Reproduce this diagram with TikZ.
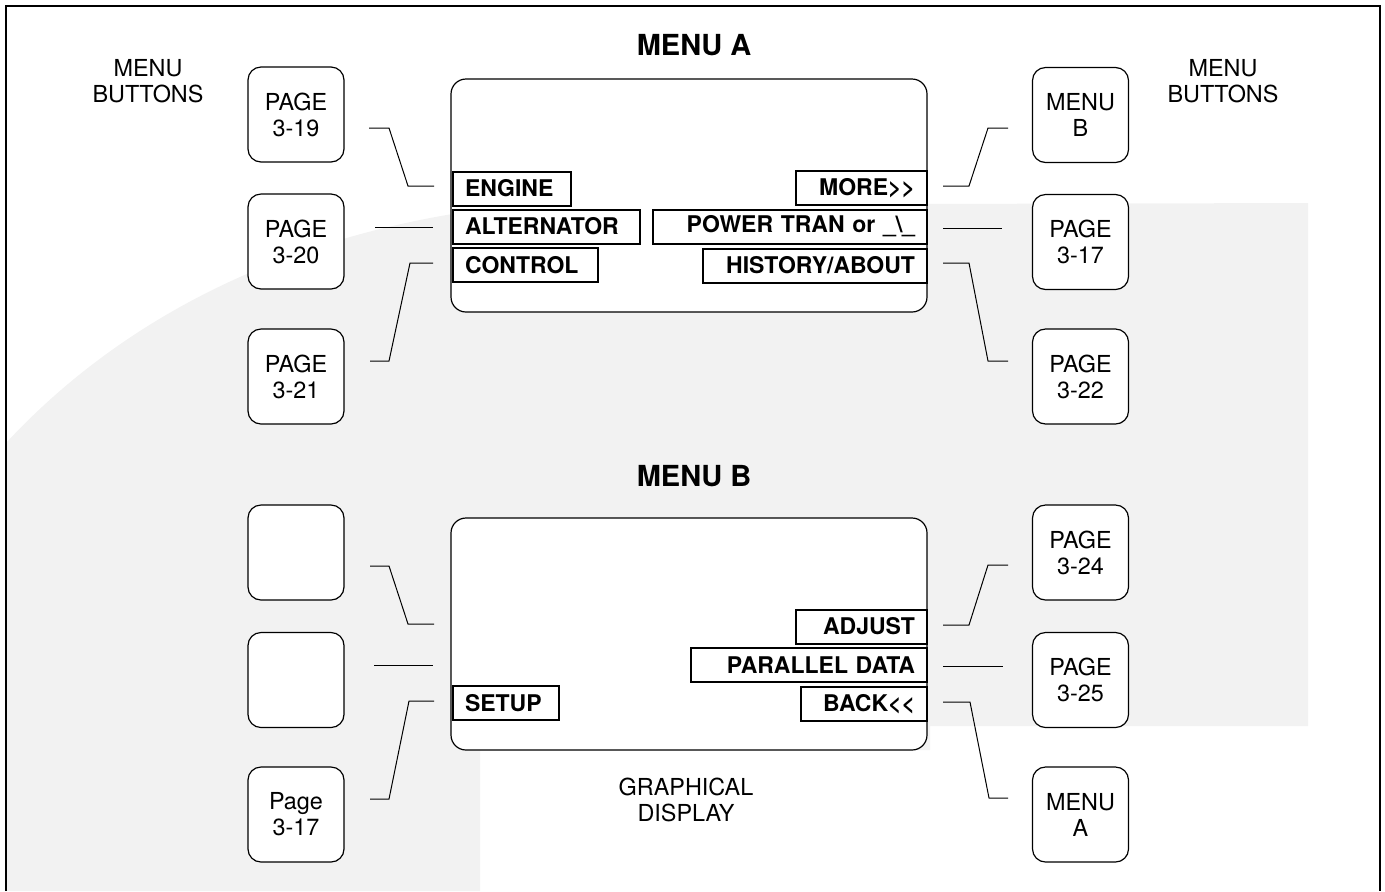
\documentclass[tikz,border=0pt]{standalone}
\usepackage{fontspec}
\setmainfont{TeX Gyre Heros}
\begin{document}
\begin{tikzpicture}[x=0.5pt,y=-0.5pt,
  btn/.style={draw, fill=white, line width=0.6pt, rounded corners=6.5pt,
    minimum width=48pt, minimum height=47.5pt, inner sep=0pt, align=center,
    font=\fontsize{11.7}{13}\selectfont},
  scr/.style={draw, fill=white, line width=0.6pt, rounded corners=7.5pt, inner sep=0pt},
  lbl/.style={draw, fill=white, line width=1pt, inner xsep=6pt, inner ysep=0pt,
    minimum height=17pt, font=\bfseries\fontsize{11.5}{13}\selectfont},
  lblL/.style={lbl, anchor=west, align=left},
  lblR/.style={lbl, anchor=east, align=right},
  conn/.style={line width=0.5pt},
  title/.style={font=\bfseries\fontsize{14.5}{17}\selectfont},
  note/.style={align=center, font=\fontsize{11.7}{13}\selectfont}]
\useasboundingbox (0,0) rectangle (1385,891);
% faint watermark background
\fill[black!5] (6,443) .. controls (120,320) and (290,228) .. (520,205)
  -- (1308,203) -- (1308,726) -- (930,726) -- (930,750) -- (480,750)
  -- (480,891) -- (6,891) -- cycle;
% frame
\draw[line width=1.3pt] (6,891) -- (6,6) -- (1380,6) -- (1380,891);

% titles and notes
\node[title] (tA) at (694,45) {MENU A};
\node[title] (tB) at (694,476) {MENU B};
\node[note] (mbL) at (148,81) {MENU\\BUTTONS};
\node[note] (mbR) at (1223,81) {MENU\\BUTTONS};
\node[note] (gd) at (686,800) {GRAPHICAL\\DISPLAY};

% screens
\node[scr, minimum width=238pt, minimum height=116.5pt] (scrA) at (689,195.5) {};
\node[scr, minimum width=238pt, minimum height=116pt] (scrB) at (689,634) {};

% left buttons
\node[btn] (L1) at (296,114.5) {PAGE\\3-19};
\node[btn] (L2) at (296,241.5) {PAGE\\3-20};
\node[btn] (L3) at (296,376.5) {PAGE\\3-21};
\node[btn] (L4) at (296,552.5) {};
\node[btn] (L5) at (296,680) {};
\node[btn] (L6) at (296,814.5) {Page\\3-17};
% right buttons
\node[btn] (R1) at (1080.5,115) {MENU\\B};
\node[btn] (R2) at (1080.5,242) {PAGE\\3-17};
\node[btn] (R3) at (1080.5,376.5) {PAGE\\3-22};
\node[btn] (R4) at (1080.5,552.5) {PAGE\\3-24};
\node[btn] (R5) at (1080.5,680) {PAGE\\3-25};
\node[btn] (R6) at (1080.5,814.5) {MENU\\A};

% labels menu A
\node[lblL, text width=47pt] (engine) at (452,188.5) {ENGINE};
\node[lblL, text width=81.5pt] (alt) at (452,226.5) {ALTERNATOR};
\node[lblL, text width=60.5pt] (ctrl) at (452,265) {CONTROL};
\node[lblR, text width=53.5pt] (more) at (928,188) {MORE>{}>};
\node[lblR, text width=125pt] (power) at (928,226.5) {POWER TRAN or \_\textbackslash\_};
\node[lblR, text width=100pt] (hist) at (928,265.5) {HISTORY/ABOUT};
% labels menu B
\node[lblL, text width=41pt] (setup) at (452,703) {SETUP};
\node[lblR, text width=53.5pt] (adjust) at (928,626.5) {ADJUST};
\node[lblR, text width=106pt] (par) at (928,665) {PARALLEL DATA};
\node[lblR, text width=51pt] (back) at (928,704) {BACK<{}<};

% connector end points
\coordinate (c1a) at (369,128);  \coordinate (c1b) at (434,186);
\coordinate (c2a) at (375,227);  \coordinate (c2b) at (433,227);
\coordinate (c3a) at (370,361);  \coordinate (c3b) at (433,263);
\coordinate (c4a) at (370,566);  \coordinate (c4b) at (434,624);
\coordinate (c5a) at (374,665);  \coordinate (c5b) at (433,665);
\coordinate (c6a) at (370,799);  \coordinate (c6b) at (434,701);
\coordinate (d1a) at (943,186);  \coordinate (d1b) at (1008,128);
\coordinate (d2a) at (943,228);  \coordinate (d2b) at (1002,228);
\coordinate (d3a) at (943,263);  \coordinate (d3b) at (1008,361);
\coordinate (d4a) at (943,625);  \coordinate (d4b) at (1008,565);
\coordinate (d5a) at (943,666);  \coordinate (d5b) at (1003,666);
\coordinate (d6a) at (943,702);  \coordinate (d6b) at (1008,798);

% connectors
\draw[conn] (c1a) -- (389,128) -- (408,186) -- (c1b);
\draw[conn] (c2a) -- (c2b);
\draw[conn] (c3a) -- (389,361) -- (410,263) -- (c3b);
\draw[conn] (c4a) -- (389,566) -- (408,624) -- (c4b);
\draw[conn] (c5a) -- (c5b);
\draw[conn] (c6a) -- (389,799) -- (409,701) -- (c6b);
\draw[conn] (d1a) -- (969,186) -- (988,128) -- (d1b);
\draw[conn] (d2a) -- (d2b);
\draw[conn] (d3a) -- (969,263) -- (988,361) -- (d3b);
\draw[conn] (d4a) -- (969,625) -- (988,565) -- (d4b);
\draw[conn] (d5a) -- (d5b);
\draw[conn] (d6a) -- (970,702) -- (989,798) -- (d6b);
\end{tikzpicture}
\end{document}
